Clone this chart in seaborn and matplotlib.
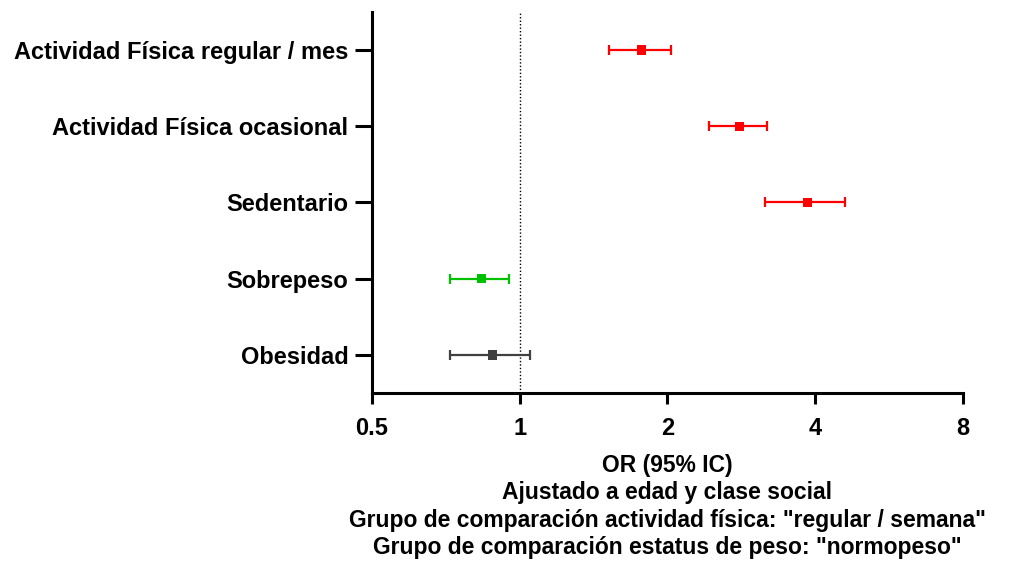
import numpy as np
import pandas as pd
import seaborn as sns
import matplotlib
matplotlib.use("Agg")
import matplotlib.pyplot as plt

# Odds ratios with 95% CI
labels = ["Actividad Física regular / mes", "Actividad Física ocasional", "Sedentario",
          "Sobrepeso", "Obesidad"]
odds = [1.77, 2.80, 3.86, 0.835, 0.88]
ci_low = [1.52, 2.43, 3.16, 0.72, 0.72]
ci_high = [2.03, 3.19, 4.60, 0.95, 1.05]
colors = ["#ff0000", "#ff0000", "#ff0000", "#00c000", "#404040"]
x_ticks = [0.5, 1, 2, 4, 8]
x_ticklabels = ["0.5", "1", "2", "4", "8"]
xlabel = ('OR (95% IC)\nAjustado a edad y clase social\n'
          'Grupo de comparación actividad física: "regular / semana"\n'
          'Grupo de comparación estatus de peso: "normopeso"')

sns.set_style("white")
plt.rcParams["font.family"] = ["Liberation Sans", "DejaVu Sans"]
plt.rcParams["font.weight"] = "bold"
plt.rcParams["text.color"] = "black"
plt.rcParams["axes.labelcolor"] = "black"
plt.rcParams["xtick.color"] = "black"
plt.rcParams["ytick.color"] = "black"

df = pd.DataFrame({"label": labels, "odds": odds, "low": ci_low, "high": ci_high})
df["pos"] = np.arange(len(df))

fig, ax = plt.subplots(figsize=(10.24, 5.70), dpi=100)
fig.subplots_adjust(left=0.3633, right=0.9404, bottom=0.3105, top=0.979)

# reference line at OR = 1
ax.axvline(1, color="black", linestyle=(0, (1, 1.5)), linewidth=1.0, zorder=1)

# confidence intervals
for i, row in df.iterrows():
    ax.errorbar(row["odds"], row["pos"],
                xerr=[[row["odds"] - row["low"]], [row["high"] - row["odds"]]],
                fmt="none", ecolor=colors[i], elinewidth=1.6, capsize=3.8,
                capthick=1.6, zorder=2)

# point estimates
sns.scatterplot(data=df, x="odds", y="pos", hue="label", palette=colors,
                marker="s", s=45, edgecolor="none", legend=False, ax=ax, zorder=3)

ax.set_xscale("log", base=2)
ax.set_xlim(0.5, 8)
ax.set_xticks(x_ticks)
ax.set_xticklabels(x_ticklabels)
ax.minorticks_off()
ax.set_ylim(len(labels) - 0.5, -0.5)
ax.set_yticks(df["pos"])
ax.set_yticklabels(labels)

sns.despine(ax=ax)
for side in ["left", "bottom"]:
    ax.spines[side].set_linewidth(2.2)
    ax.spines[side].set_color("black")

ax.tick_params(axis="x", bottom=True, length=8, width=2.2, pad=9, labelsize=17,
               color="black", labelcolor="black")
ax.tick_params(axis="y", left=True, length=12, width=2.2, pad=5, labelsize=17,
               color="black", labelcolor="black")
for t in ax.get_xticklabels() + ax.get_yticklabels():
    t.set_fontweight("bold")

ax.set_xlabel(xlabel, fontsize=16.5, fontweight="bold", labelpad=10, linespacing=1.25,
              color="black")
ax.set_ylabel("")

fig.savefig("out.png", dpi=100)
